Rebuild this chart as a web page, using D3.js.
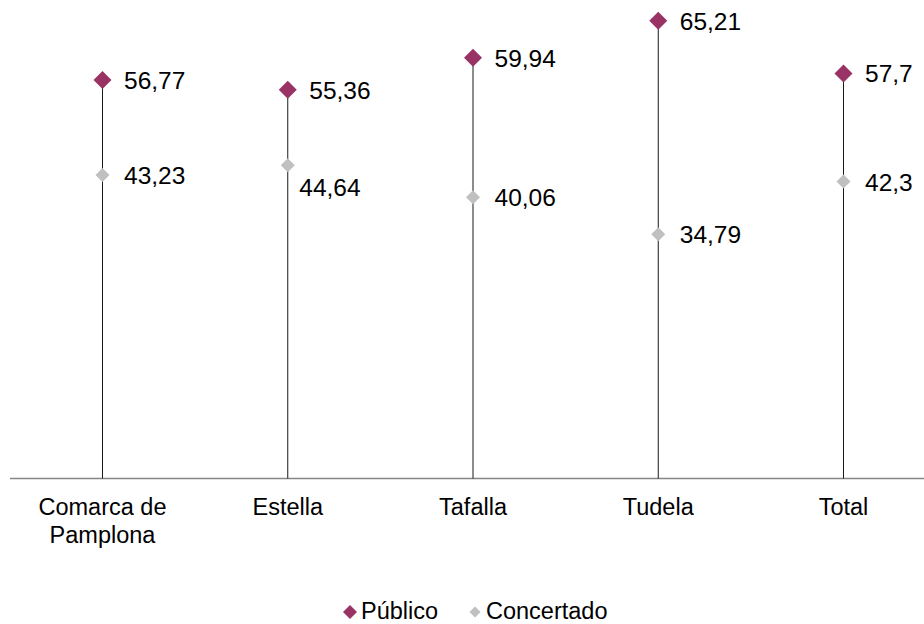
<!DOCTYPE html>
<html><head><meta charset="utf-8">
<script src="https://cdn.jsdelivr.net/npm/d3@7"></script>
<style>body{margin:0;background:#fff}svg{display:block}text{font-family:"Liberation Sans",Arial,sans-serif}</style>
</head><body><svg id="c" width="924" height="624"></svg>
<script>
const categories = ["Comarca de\nPamplona","Estella","Tafalla","Tudela","Total"];
const publico = [56.77,55.36,59.94,65.21,57.7];
const concertado = [43.23,44.64,40.06,34.79,42.3];
const seriesNames = ["Público","Concertado"];
const colors = ["#993366","#C0C0C0"];
const fmt = v => String(v).replace(".", ",");

const svg = d3.select("#c");
const x = d3.scalePoint().domain(categories).range([102.5, 843.5]);
const y = d3.scaleLinear().domain([0, 70]).range([478.5, -12.9]);

// axis line
svg.append("line").attr("x1",10).attr("x2",924).attr("y1",478.5).attr("y2",478.5)
  .attr("stroke","#868686").attr("stroke-width",1.5);

// drop lines
svg.selectAll(".drop").data(categories).join("line")
  .attr("x1",d=>x(d)).attr("x2",d=>x(d))
  .attr("y1",(d,i)=>y(Math.max(publico[i],concertado[i])))
  .attr("y2",y(0)).attr("stroke","#1a1a1a").attr("stroke-width",1);

const diamond = (s) => `M0,${-s}L${s},0L0,${s}L${-s},0Z`;
const series = [publico, concertado];
const sizes = [9, 7];
series.forEach((vals, si) => {
  const g = svg.append("g");
  g.selectAll("path").data(vals).join("path")
    .attr("d", diamond(sizes[si]))
    .attr("transform",(v,i)=>`translate(${x(categories[i])},${y(v)})`)
    .attr("fill", colors[si]);
  g.selectAll("text").data(vals).join("text")
    .attr("x",(v,i)=>x(categories[i]) + 21.5 + (si===1 && i===1 ? -10 : 0))
    .attr("y",(v,i)=>y(v) + 9 + (si===1 && i===1 ? 22 : 0))
    .attr("font-size",24.5).attr("fill","#000")
    .text(v=>fmt(v));
});

// category labels
categories.forEach(c => {
  const lines = c.split("\n");
  const t = svg.append("text").attr("text-anchor","middle").attr("font-size",23.5).attr("fill","#000");
  lines.forEach((l,k)=>t.append("tspan").attr("x",x(c)).attr("y",515 + k*28).text(l));
});

// legend
const leg = svg.append("g");
const legX = [350, 475];
seriesNames.forEach((n,i)=>{
  leg.append("path").attr("d", diamond(i===0?7:5.5))
    .attr("transform",`translate(${legX[i]},612)`).attr("fill",colors[i]);
  leg.append("text").attr("x",legX[i]+11).attr("y",619).attr("font-size",23.5).attr("fill","#000").text(n);
});
</script></body></html>
